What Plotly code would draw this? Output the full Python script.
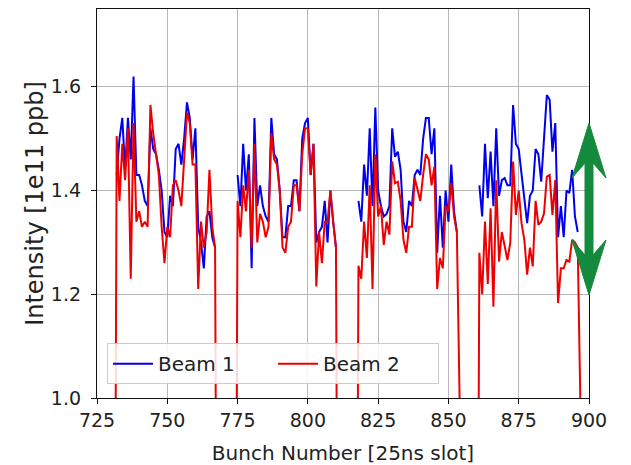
import plotly.graph_objects as go

# ---------------- data ----------------
train_starts = [732, 775, 818, 861]

beam1_train1 = [1.43, 1.50, 1.54, 1.44, 1.54, 1.46, 1.62, 1.43, 1.43, 1.41, 1.38, 1.37,
                1.52, 1.48, 1.47, 1.44, 1.40, 1.32, 1.31, 1.39, 1.37, 1.48, 1.49, 1.45,
                1.50, 1.57, 1.54, 1.46, 1.52, 1.33, 1.30, 1.25, 1.35, 1.36, 1.31, 1.29]
beam1_train2 = [1.43, 1.37, 1.49, 1.40, 1.47, 1.25, 1.54, 1.37, 1.41, 1.37, 1.35, 1.34,
                1.54, 1.47, 1.46, 1.40, 1.31, 1.31, 1.37, 1.37, 1.42, 1.42, 1.36, 1.50,
                1.53, 1.54, 1.43, 1.49, 1.30, 1.32, 1.33, 1.38, 1.30, 1.40, 1.34, 1.29]
beam1_train3 = [1.38, 1.34, 1.45, 1.39, 1.52, 1.37, 1.56, 1.40, 1.37, 1.35, 1.355, 1.37,
                1.52, 1.465, 1.475, 1.44, 1.34, 1.32, 1.38, 1.37, 1.43, 1.44, 1.43, 1.50,
                1.54, 1.54, 1.47, 1.52, 1.28, 1.39, 1.29, 1.40, 1.34, 1.45, 1.36, 1.32]
beam1_train4 = [1.41, 1.35, 1.49, 1.385, 1.475, 1.37, 1.52, 1.39, 1.42, 1.424, 1.41, 1.41,
                1.565, 1.49, 1.48, 1.43, 1.376, 1.337, 1.39, 1.40, 1.48, 1.47, 1.417, 1.50,
                1.584, 1.575, 1.475, 1.53, 1.31, 1.37, 1.31, 1.40, 1.395, 1.44, 1.35, 1.32]

beam2_train1 = [1.505, 1.38, 1.49, 1.42, 1.52, 1.23, 1.53, 1.34, 1.36, 1.33, 1.34, 1.33,
                1.565, 1.51, 1.47, 1.43, 1.33, 1.26, 1.33, 1.31, 1.41, 1.42, 1.40, 1.37,
                1.46, 1.55, 1.53, 1.45, 1.45, 1.21, 1.34, 1.29, 1.32, 1.44, 1.33, 1.29]
beam2_train2 = [1.38, 1.31, 1.41, 1.36, 1.44, 1.29, 1.49, 1.30, 1.355, 1.34, 1.31, 1.33,
                1.51, 1.46, 1.45, 1.40, 1.29, 1.28, 1.33, 1.34, 1.41, 1.41, 1.36, 1.47,
                1.52, 1.52, 1.43, 1.49, 1.215, 1.32, 1.26, 1.34, 1.34, 1.40, 1.34, 1.29]
beam2_train3 = [1.255, 1.23, 1.34, 1.27, 1.41, 1.21, 1.47, 1.35, 1.37, 1.295, 1.34, 1.315,
                1.456, 1.414, 1.417, 1.38, 1.305, 1.28, 1.33, 1.33, 1.424, 1.40, 1.38, 1.43,
                1.47, 1.46, 1.41, 1.446, 1.21, 1.27, 1.25, 1.37, 1.36, 1.414, 1.35, 1.32]
beam2_train4 = [1.28, 1.20, 1.34, 1.22, 1.366, 1.176, 1.42, 1.263, 1.32, 1.29, 1.266, 1.30,
                1.456, 1.353, 1.40, 1.337, 1.305, 1.238, 1.29, 1.254, 1.38, 1.334, 1.34, 1.356,
                1.427, 1.43, 1.353, 1.42, 1.183, 1.25, 1.25, 1.266, 1.263, 1.305, 1.30, 1.29]

slot_first, slot_last = 725, 900
x_ticks = [725, 750, 775, 800, 825, 850, 875, 900]
y_ticks = [1.0, 1.2, 1.4, 1.6]
y_tick_labels = ["1.0", "1.2", "1.4", "1.6"]

# ---------------- build series ----------------
beam1_trains = [beam1_train1, beam1_train2, beam1_train3, beam1_train4]
beam2_trains = [beam2_train1, beam2_train2, beam2_train3, beam2_train4]

slots = list(range(slot_first, slot_last + 1))
beam1 = [None] * len(slots)
beam2 = [0.0] * len(slots)   # empty slots have zero intensity
for start, t1, t2 in zip(train_starts, beam1_trains, beam2_trains):
    for i, (a, b) in enumerate(zip(t1, t2)):
        beam1[start + i - slot_first] = a
        beam2[start + i - slot_first] = b

# page body has an 8px margin, so the figure is offset by 8px
OFF = 8
W, H = 623, 457
ML, MR, MT, MB = 89, 42, 1, 67
FONT = "DejaVu Sans"

fig = go.Figure()
fig.add_trace(go.Scatter(x=slots, y=beam1, mode="lines", name="Beam 1",
                         line=dict(color="#0000ee", width=2), connectgaps=False))
fig.add_trace(go.Scatter(x=slots, y=beam2, mode="lines", name="Beam 2",
                         line=dict(color="#ee0000", width=2)))

# green double arrow (window-pixel geometry converted to paper coords)
pw, ph = W - ML - MR, H - MT - MB
def px(p):
    return (p - OFF - ML) / pw
def py(q):
    return (H - MB - (q - OFF)) / ph

cx, hw = 589, 4
pts = [(cx, 123), (cx + 17, 178), (cx + hw, 163), (cx + hw, 255), (cx + 17, 240),
       (cx, 295), (cx - 17, 240), (cx - hw, 255), (cx - hw, 163), (cx - 17, 178)]
path = "M " + " L ".join(f"{px(a):.5f},{py(b):.5f}" for a, b in pts) + " Z"
fig.add_shape(type="path", path=path, xref="paper", yref="paper",
              fillcolor="#138a3c", line=dict(color="#138a3c", width=1), layer="above")

axis_common = dict(showgrid=True, gridcolor="#b8b8b8", gridwidth=1, zeroline=False,
                   showline=True, linecolor="#111", linewidth=1.3, mirror=True,
                   ticks="outside", ticklen=5, tickcolor="#111", tickwidth=1.2,
                   tickfont=dict(family=FONT, size=19, color="#222"))

fig.update_layout(
    width=W, height=H,
    margin=dict(l=ML, r=MR, t=MT, b=MB),
    paper_bgcolor="white", plot_bgcolor="white",
    font=dict(family=FONT, color="#222"),
    xaxis=dict(range=[slot_first, slot_last], tickvals=x_ticks,
               title=dict(text="Bunch Number [25ns slot]", font=dict(family=FONT, size=20), standoff=16),
               **axis_common),
    yaxis=dict(range=[1.0, 1.75], tickvals=y_ticks, ticktext=y_tick_labels,
               ticklabelstandoff=6,
               title=dict(text="Intensity [1e11 ppb]", font=dict(family=FONT, size=24), standoff=0),
               **axis_common),
    legend=dict(orientation="h", x=0.0203, y=0.141, xanchor="left", yanchor="top",
                bgcolor="rgba(255,255,255,0.85)", bordercolor="#cccccc", borderwidth=1,
                font=dict(family=FONT, size=20, color="#222"),
                itemwidth=40, entrywidth=110, entrywidthmode="pixels"),
    showlegend=True,
)

fig.write_html("out.html")
